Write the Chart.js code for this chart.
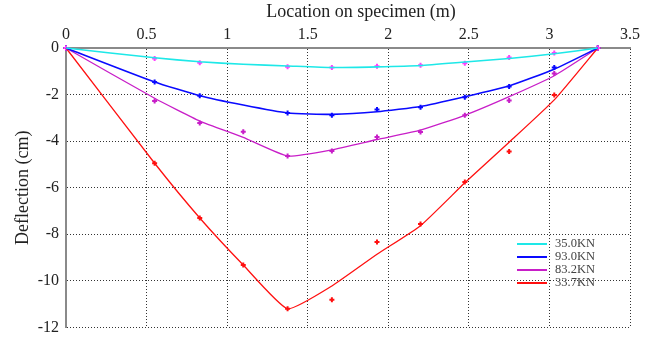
<!DOCTYPE html>
<html>
<head>
<meta charset="utf-8">
<script src="https://cdn.jsdelivr.net/npm/chart.js@4/dist/chart.umd.min.js"></script>
<style>
  html, body { margin: 0; padding: 0; background: #fff; }
  #wrap { width: 653px; height: 344px; }
</style>
</head>
<body>
<div id="wrap"><canvas id="chart"></canvas></div>
<script>
// measurement positions along the specimen (m)
const xPos = [0, 0.55, 0.83, 1.1, 1.375, 1.65, 1.93, 2.2, 2.475, 2.75, 3.03, 3.3];
const loads = ["35.0KN", "93.0KN", "83.2KN", "33.7KN"];

// measured deflections (cm), null = no reading
const meas35 = [0, -0.45, -0.63, null, -0.8, -0.84, -0.78, -0.74, -0.66, -0.41, -0.21, 0];
const meas93 = [0, -1.46, -2.05, null, -2.79, -2.89, -2.64, -2.55, -2.11, -1.65, -0.84, 0];
const meas83 = [0, -2.28, -3.22, -3.6, -4.64, -4.42, -3.82, -3.61, -2.89, -2.25, -1.1, 0];
const meas33 = [0, -4.95, -7.3, -9.32, -11.2, -10.81, -8.33, -7.56, -5.75, -4.44, -2.02, 0];

// fitted curves (cm)
const fit35 = [0, -0.42, -0.59, -0.7, -0.77, -0.84, -0.81, -0.75, -0.6, -0.45, -0.25, 0];
const fit93 = [0, -1.46, -2.05, -2.45, -2.79, -2.85, -2.74, -2.51, -2.09, -1.63, -0.91, 0];
const fit83 = [0, -2.16, -3.14, -3.84, -4.64, -4.37, -3.93, -3.53, -2.89, -2.09, -1.19, 0];
const fit33 = [0, -4.95, -7.3, -9.32, -11.2, -10.22, -8.86, -7.63, -5.79, -4.05, -2.23, 0];

const xTicks = [0, 0.5, 1, 1.5, 2, 2.5, 3, 3.5];
const yTicks = [0, -2, -4, -6, -8, -10, -12];

const lineColors = ["#1ee8e8", "#0a0aff", "#c81ec8", "#ff1010"];
const markColors = ["#ff40ff", "#0a0aff", "#c81ec8", "#ff1010"];

const pts = (ys) => xPos.map((x, i) => ({ x: x, y: ys[i] })).filter((p) => p.y !== null);

const fits = [fit35, fit93, fit83, fit33];
const meas = [meas35, meas93, meas83, meas33];

const datasets = [];
fits.forEach((f, i) => {
  datasets.push({
    label: loads[i],
    data: pts(f),
    borderColor: lineColors[i],
    borderWidth: i < 2 ? 1.6 : 1.3,
    pointRadius: 0,
    tension: 0.15,
    showLine: true,
    clip: false,
  });
});
meas.forEach((m, i) => {
  datasets.push({
    label: loads[i] + " data",
    data: pts(m),
    showLine: false,
    pointStyle: "cross",
    pointRadius: 2.5,
    borderWidth: 2,
    borderColor: markColors[i],
    backgroundColor: markColors[i],
    clip: false,
  });
});

const serif = "'Liberation Serif', 'DejaVu Serif', serif";

const extras = {
  id: "extras",
  afterDraw(chart) {
    const ctx = chart.ctx,
      a = chart.chartArea;
    ctx.save();
    ctx.fillStyle = "#222";
    ctx.font = "18px " + serif;
    ctx.textAlign = "center";
    ctx.textBaseline = "middle";
    ctx.fillText("Location on specimen (m)", a.left + 295, 12);
    ctx.translate(23, (a.top + a.bottom) / 2);
    ctx.rotate(-Math.PI / 2);
    ctx.fillText("Deflection (cm)", 0, 0);
    ctx.restore();

    // legend inside the plot
    ctx.save();
    ctx.font = "12.5px " + serif;
    ctx.textAlign = "left";
    ctx.textBaseline = "middle";
    for (let i = 0; i < loads.length; i++) {
      const y = a.top + 196 + i * 13;
      ctx.strokeStyle = lineColors[i];
      ctx.lineWidth = 2;
      ctx.beginPath();
      ctx.moveTo(a.right - 113, y);
      ctx.lineTo(a.right - 83, y);
      ctx.stroke();
      ctx.fillStyle = "#444";
      ctx.fillText(loads[i], a.right - 75, y);
    }
    ctx.restore();
  },
};

new Chart(document.getElementById("chart"), {
  type: "scatter",
  data: { datasets: datasets },
  options: {
    responsive: true,
    maintainAspectRatio: false,
    animation: false,
    layout: { padding: { left: 0, right: 23, top: 0, bottom: 9 } },
    plugins: { legend: { display: false }, tooltip: { enabled: false } },
    scales: {
      x: {
        type: "linear",
        position: "top",
        min: 0,
        max: 3.5,
        afterBuildTicks: (s) => {
          s.ticks = xTicks.map((v) => ({ value: v }));
        },
        afterFit: (s) => {
          s.height = 48;
        },
        ticks: {
          padding: 4,
          color: "#222",
          font: { family: serif, size: 16 },
          callback: (v) => String(v),
        },
        grid: { color: "#333", lineWidth: 1, drawTicks: false },
        border: { color: "#8a8a8a", width: 2, dash: [1, 2] },
      },
      y: {
        type: "linear",
        min: -12,
        max: 0,
        afterBuildTicks: (s) => {
          s.ticks = yTicks.map((v) => ({ value: v }));
        },
        afterFit: (s) => {
          s.width = 66;
        },
        ticks: {
          padding: 7,
          color: "#222",
          font: { family: serif, size: 16 },
          callback: (v) => String(v),
        },
        grid: { color: "#333", lineWidth: 1, drawTicks: false },
        border: { color: "#8a8a8a", width: 2, dash: [1, 2] },
      },
    },
  },
  plugins: [extras],
});
</script>
</body>
</html>
